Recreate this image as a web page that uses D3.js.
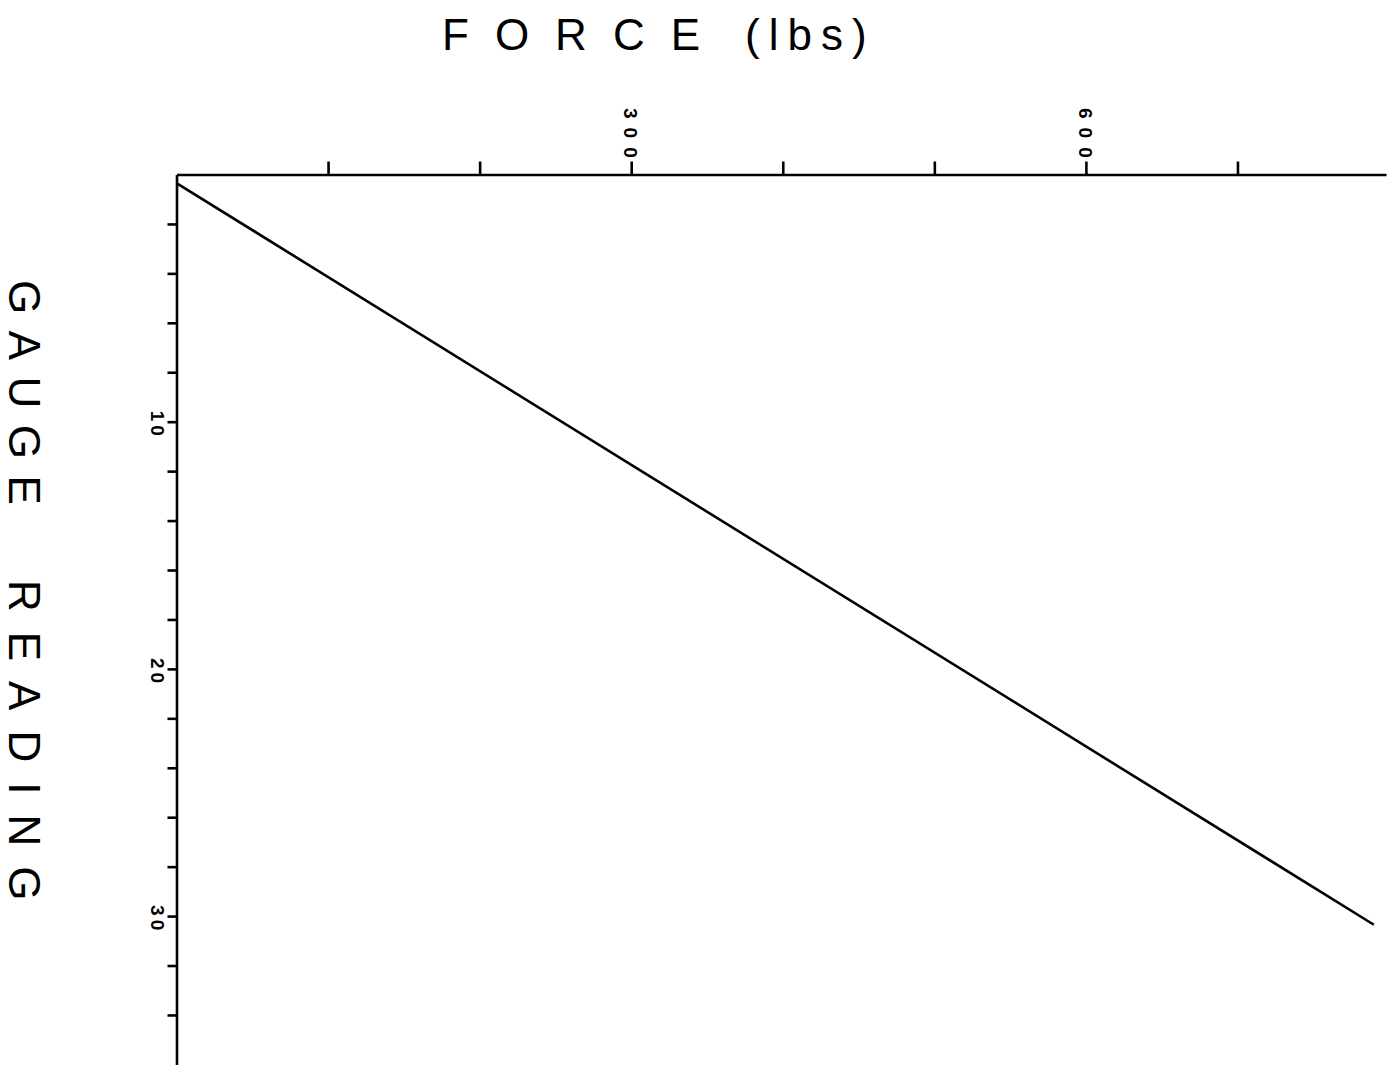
<!DOCTYPE html>
<html>
<head>
<meta charset="utf-8">
<script src="https://cdn.jsdelivr.net/npm/d3@7"></script>
<style>
  html, body { margin: 0; padding: 0; background: #fff; }
  svg { display: block; }
  text { font-family: "Liberation Sans", Arial, sans-serif; fill: #000; }
</style>
</head>
<body>
<svg id="chart" width="1396" height="1067"></svg>
<script>
// Force vs gauge reading calibration
const force = [0, 790];          // lbs
const gauge = [0.35, 30.35];     // gauge reading
const xTicks = [100, 200, 300, 400, 500, 600, 700];
const xLabels = [300, 600];
const yTicks = [2, 4, 6, 8, 10, 12, 14, 16, 18, 20, 22, 24, 26, 28, 30, 32, 34];
const yLabels = [10, 20, 30];

const svg = d3.select("#chart");

const x = d3.scaleLinear().domain([0, 798]).range([176.5, 1386]);
const y = d3.scaleLinear().domain([0, 36]).range([174.5, 1064.4]);

// top axis (force)
const gx = svg.append("g")
  .attr("transform", `translate(0,${y(0)})`)
  .call(d3.axisTop(x).tickValues(xTicks).tickSize(13).tickSizeOuter(0).tickFormat(""));

// left axis (gauge reading, increases downward)
const gy = svg.append("g")
  .attr("transform", `translate(${x(0)},0)`)
  .call(d3.axisLeft(y).tickValues(yTicks).tickSize(9).tickSizeOuter(0).tickFormat(""));

[gx, gy].forEach(g => {
  g.select(".domain").attr("stroke", "#000").attr("stroke-width", 2.6);
  g.selectAll(".tick line").attr("stroke", "#000").attr("stroke-width", 2.6);
});

// rotated tick labels, reading top to bottom
svg.selectAll("text.xl").data(xLabels).join("text")
  .attr("class", "xl")
  .attr("transform", d => `translate(${x(d)},108) rotate(90)`)
  .attr("dy", "0.36em")
  .attr("font-size", 19)
  .attr("font-weight", "bold")
  .attr("letter-spacing", 9)
  .text(d => d);

svg.selectAll("text.yl").data(yLabels).join("text")
  .attr("class", "yl")
  .attr("transform", d => `translate(158,${y(d) - 11}) rotate(90)`)
  .attr("dy", "0.36em")
  .attr("font-size", 19)
  .attr("font-weight", "bold")
  .attr("letter-spacing", 4)
  .text(d => d);

// the calibration line
const pts = force.map((f, i) => [f, gauge[i]]);
svg.append("path")
  .datum(pts)
  .attr("fill", "none")
  .attr("stroke", "#000")
  .attr("stroke-width", 2.6)
  .attr("d", d3.line().x(d => x(d[0])).y(d => y(d[1])));

// axis titles
svg.append("text")
  .attr("x", 442).attr("y", 50)
  .attr("font-size", 44)
  .attr("letter-spacing", 26)
  .text("FORCE");
svg.append("text")
  .attr("x", 745).attr("y", 50)
  .attr("font-size", 44)
  .attr("letter-spacing", 9)
  .text("(lbs)");

svg.append("text")
  .attr("transform", "translate(25,280) rotate(90)")
  .attr("dy", "0.36em")
  .attr("font-size", 44)
  .attr("letter-spacing", 16.5)
  .text("GAUGE");
svg.append("text")
  .attr("transform", "translate(25,580) rotate(90)")
  .attr("dy", "0.36em")
  .attr("font-size", 44)
  .attr("letter-spacing", 20)
  .text("READING");
</script>
</body>
</html>
